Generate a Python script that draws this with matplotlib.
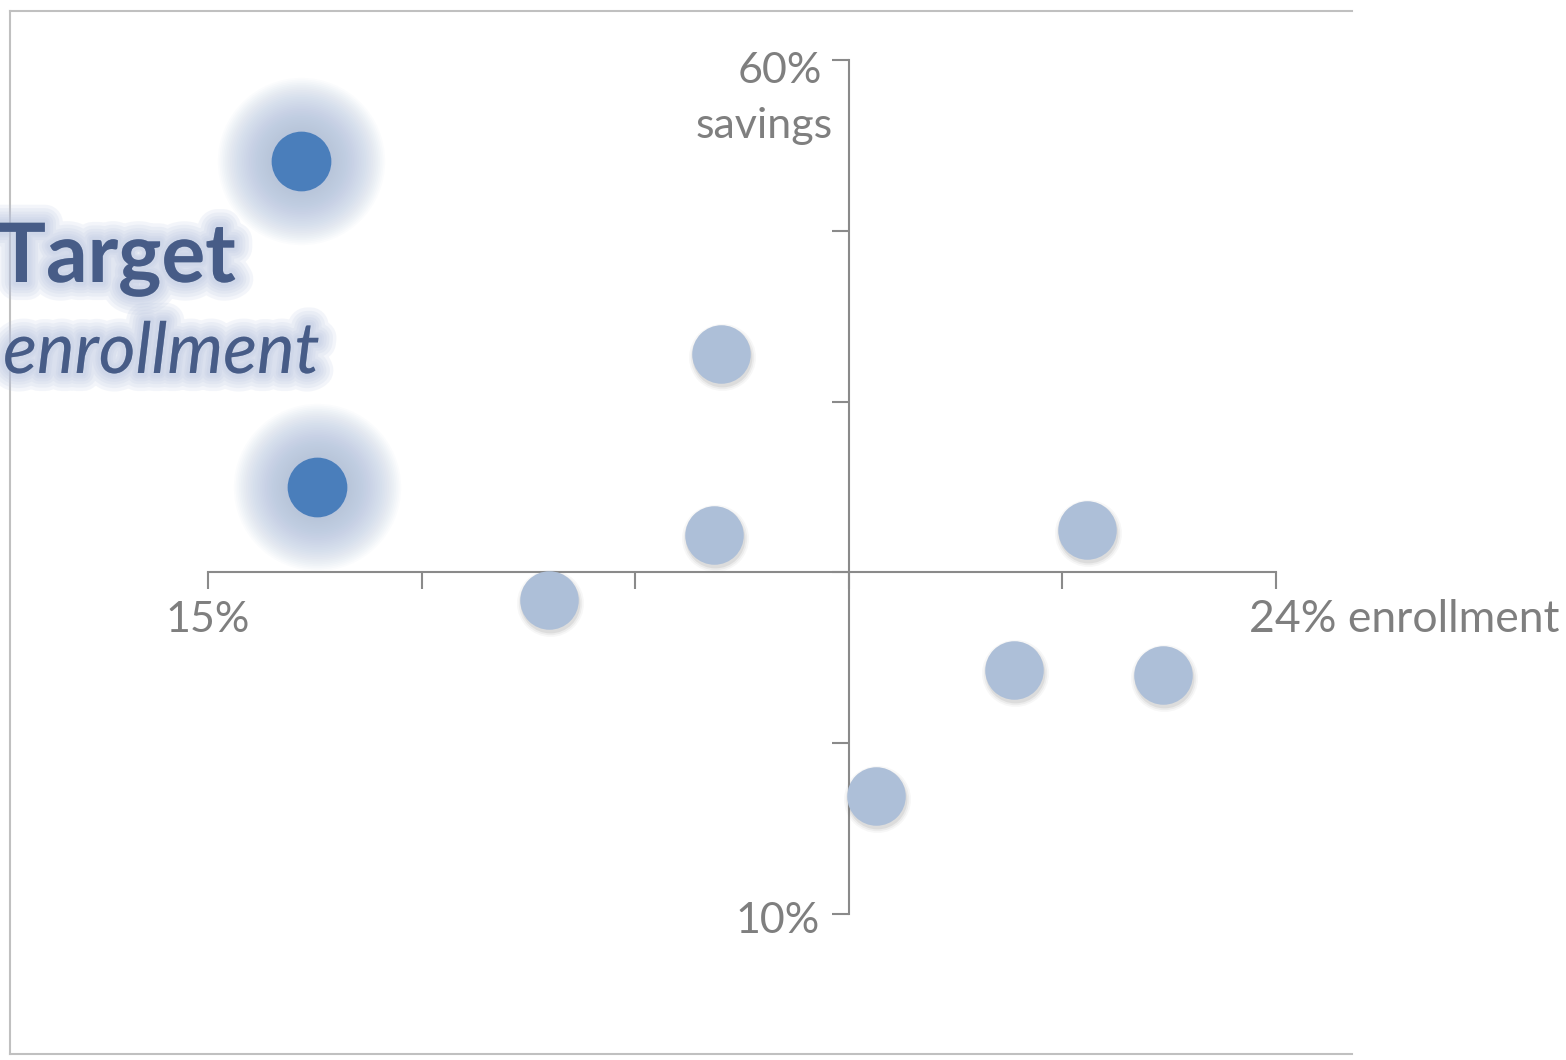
import numpy as np
import matplotlib.pyplot as plt
import matplotlib.patheffects as pe
from matplotlib.lines import Line2D
from matplotlib.transforms import offset_copy

plt.rcParams['font.family'] = ['Lato', 'DejaVu Sans']

# Дані: охоплення (%) та економія (%)
target_x = [15.78, 15.92]
target_y = [54.1, 35.0]
other_x = [19.32, 19.26, 17.87, 20.63, 21.79, 22.41, 23.05]
other_y = [42.8, 32.2, 28.4, 16.9, 24.3, 32.5, 24.0]

x_min, x_max, x_cross = 15, 24, 20.4
y_min, y_max, y_cross = 10, 60, 30
x_ticks = np.linspace(x_min, x_max, 6)
y_ticks = np.linspace(y_min, y_max, 6)

W, H = 1566, 1060
fig = plt.figure(figsize=(W / 100, H / 100), dpi=100)
ax = fig.add_axes([0, 0, 1, 1])

# Масштаб: 15..24 -> 208..1276 px, 60..10 -> 60..914 px
px_x = (x_max - x_min) / (1276 - 208)
px_y = (y_max - y_min) / (914 - 60)
ax.set_xlim(x_min - 208 * px_x, x_min + (W - 208) * px_x)
ax.set_ylim(y_max - (H - 60) * px_y, y_max + 60 * px_y)
ax.patch.set_visible(False)

axis_col = '#8a8a8a'
text_col = '#7f7f7f'
for s in ['top', 'right']:
    ax.spines[s].set_visible(False)
ax.spines['left'].set_position(('data', x_cross))
ax.spines['bottom'].set_position(('data', y_cross))
ax.spines['left'].set_bounds(y_min, y_max)
ax.spines['bottom'].set_bounds(x_min, x_max)
for s in ['left', 'bottom']:
    ax.spines[s].set_color(axis_col)
    ax.spines[s].set_linewidth(1.5)
ax.set_xticks(x_ticks)
ax.set_yticks(y_ticks)
ax.set_xticklabels([])
ax.set_yticklabels([])
ax.tick_params(direction='out', length=12, width=1.5, color=axis_col)

# Підписи осей
fs = 31
ax.annotate('15%', (x_min, y_cross), xytext=(0, -43), textcoords='offset points',
            ha='center', va='baseline', fontsize=fs, color=text_col)
ax.annotate('24% enrollment', (x_max, y_cross), xytext=(-19.5, -43), textcoords='offset points',
            ha='left', va='baseline', fontsize=fs + 1, color=text_col)
ax.annotate('60%', (x_cross, y_max), xytext=(-19.5, -16.5), textcoords='offset points',
            ha='right', va='baseline', fontsize=fs, color=text_col)
ax.annotate('savings', (x_cross, y_max), xytext=(-11.5, -56), textcoords='offset points',
            ha='right', va='baseline', fontsize=fs, color=text_col)
ax.annotate('10%', (x_cross, y_min), xytext=(-21, -13.7), textcoords='offset points',
            ha='right', va='baseline', fontsize=fs, color=text_col)

# Світіння навколо цільових точок
dot_d = 43  # діаметр точки в pt
for r in np.linspace(dot_d, dot_d * 2.8, 32):
    ax.scatter(target_x, target_y, s=r ** 2, color='#a9bbdb', alpha=0.042,
               linewidths=0, zorder=2)
ax.scatter(target_x, target_y, s=dot_d ** 2, color='#4a7ebb', linewidths=0, zorder=4)

# Інші точки з легкою тінню
shadow = offset_copy(ax.transData, fig=fig, x=1, y=-3, units='dots')
for k, a in zip([1.12, 1.06, 1.0], [0.05, 0.08, 0.12]):
    ax.scatter(other_x, other_y, s=(dot_d * k) ** 2, color='#6b6b6b', alpha=a,
               linewidths=0, transform=shadow, zorder=3)
ax.scatter(other_x, other_y, s=(dot_d * 0.98) ** 2, color='#adbfd8', linewidths=0, zorder=4)

# Підпис "Target enrollment" зі світінням
glow = [pe.Stroke(linewidth=w, foreground='#b9c6e0', alpha=0.16)
        for w in (26, 21, 16, 12, 8, 5)] + [pe.Normal()]
fig.text(-0.002, 1 - 282 / H, 'Target', fontsize=59, fontweight='bold', color='#475c87',
         ha='left', va='baseline', path_effects=glow)
fig.text(0.002, 1 - 373 / H, 'enrollment', fontsize=51, fontstyle='italic', color='#475c87',
         ha='left', va='baseline', path_effects=glow)

# Рамка (без правої сторони)
frame_col = '#c0c0c0'
fx0, fx1 = 10 / W, 1352 / W
fy0, fy1 = 1 - 1054 / H, 1 - 10.5 / H
for xs, ys in [([fx0, fx1], [fy1, fy1]), ([fx0, fx0], [fy0, fy1]), ([fx0, fx1], [fy0, fy0])]:
    fig.add_artist(Line2D(xs, ys, color=frame_col, linewidth=1.5, transform=fig.transFigure))

fig.savefig('out.png', dpi=100)
